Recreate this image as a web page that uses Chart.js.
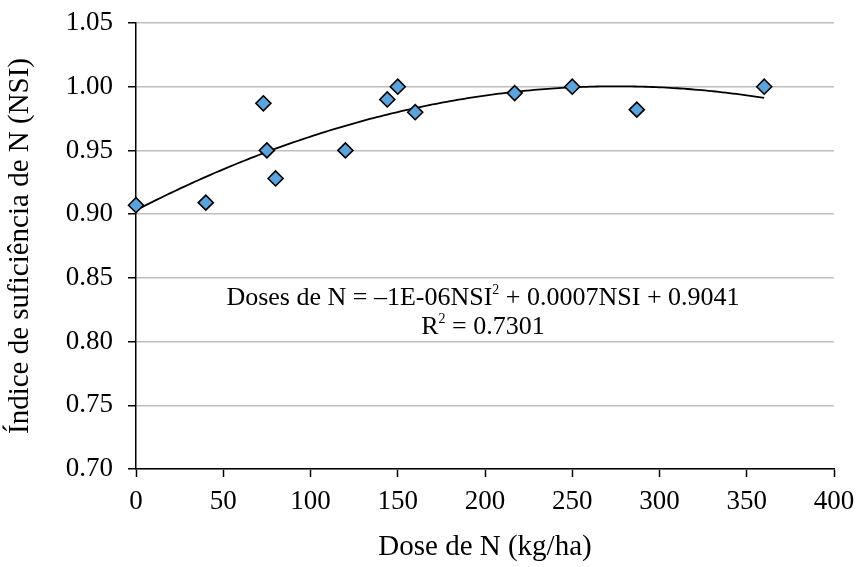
<!DOCTYPE html>
<html>
<head>
<meta charset="utf-8">
<script src="https://cdn.jsdelivr.net/npm/chart.js@4/dist/chart.umd.min.js"></script>
<style>
  html, body { margin: 0; padding: 0; background: #fff; }
  #wrap { width: 858px; height: 567px; }
</style>
</head>
<body>
<div id="wrap"><canvas id="nsiChart" width="858" height="567"></canvas></div>
<script>
const doses = [0, 40, 73, 75, 80, 120, 144, 150, 160, 217, 250, 287, 360];
const nsi = [0.907, 0.909, 0.987, 0.950, 0.928, 0.950, 0.990, 1.000, 0.980, 0.995, 1.000, 0.982, 1.000];
const eqText = "Doses de N = \u20131E-06NSI";
const eqText2 = " + 0.0007NSI + 0.9041";
const r2Text = " = 0.7301";

const FONT = "'Liberation Serif', 'Times New Roman', serif";

// quadratic least squares fit, same as the spreadsheet trendline
function polyFit2(xs, ys) {
    let s = [0, 0, 0, 0, 0], t = [0, 0, 0];
    for (let i = 0; i < xs.length; i++) {
        let p = 1;
        for (let k = 0; k < 5; k++) { s[k] += p; if (k < 3) t[k] += p * ys[i]; p *= xs[i]; }
    }
    const m = [[s[0], s[1], s[2], t[0]], [s[1], s[2], s[3], t[1]], [s[2], s[3], s[4], t[2]]];
    for (let c = 0; c < 3; c++) {
        for (let r = c + 1; r < 3; r++) {
            const f = m[r][c] / m[c][c];
            for (let k = c; k < 4; k++) m[r][k] -= f * m[c][k];
        }
    }
    const out = [0, 0, 0];
    for (let r = 2; r >= 0; r--) {
        let v = m[r][3];
        for (let k = r + 1; k < 3; k++) v -= m[r][k] * out[k];
        out[r] = v / m[r][r];
    }
    return out; // c0, c1, c2
}

const coef = polyFit2(doses, nsi);
const xMin = Math.min(...doses), xMax = Math.max(...doses);
const trend = [];
for (let x = xMin; x <= xMax; x += 2) {
    trend.push({ x: x, y: coef[0] + coef[1] * x + coef[2] * x * x });
}

// equation label drawn over the plot
const equationLabel = {
    id: "equationLabel",
    afterDatasetsDraw(chart) {
        const ctx = chart.ctx;
        const cx = 483;
        ctx.save();
        ctx.fillStyle = "#000";
        ctx.textBaseline = "alphabetic";
        const big = "26px " + FONT, small = "14px " + FONT;
        // line 1
        ctx.font = big;
        const w1 = ctx.measureText(eqText).width, w3 = ctx.measureText(eqText2).width;
        ctx.font = small;
        const w2 = ctx.measureText("2").width;
        let x = cx - (w1 + w2 + w3) / 2;
        ctx.textAlign = "left";
        ctx.font = big; ctx.fillText(eqText, x, 305); x += w1;
        ctx.font = small; ctx.fillText("2", x, 294); x += w2;
        ctx.font = big; ctx.fillText(eqText2, x, 305);
        // line 2
        const wr = ctx.measureText("R").width, wv = ctx.measureText(r2Text).width;
        x = cx - (wr + w2 + wv) / 2;
        ctx.fillText("R", x, 334); x += wr;
        ctx.font = small; ctx.fillText("2", x, 323); x += w2;
        ctx.font = big; ctx.fillText(r2Text, x, 334);
        ctx.restore();
    }
};

const ctx = document.getElementById("nsiChart").getContext("2d");
new Chart(ctx, {
    type: "scatter",
    data: {
        datasets: [
            {
                label: "NSI",
                data: doses.map((d, i) => ({ x: d, y: nsi[i] })),
                pointStyle: "rectRot",
                pointRadius: 7.5,
                pointBackgroundColor: "#5ba3dc",
                pointBorderColor: "#000",
                pointBorderWidth: 1.6,
                clip: false
            },
            {
                label: "Trend",
                data: trend,
                showLine: true,
                pointRadius: 0,
                borderColor: "#000",
                borderWidth: 1.8,
                tension: 0
            }
        ]
    },
    options: {
        responsive: false,
        animation: false,
        layout: { padding: { top: 23, right: 24, left: 0, bottom: 0 } },
        plugins: { legend: { display: false }, tooltip: { enabled: false } },
        scales: {
            x: {
                type: "linear",
                min: 0, max: 400,
                afterFit(scale) {
                    scale.height = 98;
                    scale.paddingLeft = 0; scale.paddingRight = 0;
                },
                ticks: { stepSize: 50, color: "#000", padding: 9, font: { family: FONT, size: 27 } },
                grid: { drawOnChartArea: false, tickLength: 8, tickColor: "#000", tickWidth: 1.5 },
                border: { color: "#000", width: 1.5 },
                title: { display: true, text: "Dose de N (kg/ha)", color: "#000",
                    font: { family: FONT, size: 29 }, padding: { top: 0, bottom: 2 } }
            },
            y: {
                min: 0.70, max: 1.05,
                afterFit(scale) {
                    scale.width = 136;
                    scale.paddingTop = 0; scale.paddingBottom = 0;
                },
                ticks: { stepSize: 0.05, color: "#000", padding: 15,
                    font: { family: FONT, size: 27 },
                    callback: v => v.toFixed(2) },
                grid: { color: "#bfbfbf", lineWidth: 1.5, tickLength: 8, tickColor: "#000", tickWidth: 1.5 },
                border: { color: "#000", width: 1.5 },
                title: { display: true, text: "Índice de suficiência de N (NSI)", color: "#000",
                    font: { family: FONT, size: 29 }, padding: { top: 3, bottom: 0 } }
            }
        }
    },
    plugins: [equationLabel]
});
</script>
</body>
</html>
